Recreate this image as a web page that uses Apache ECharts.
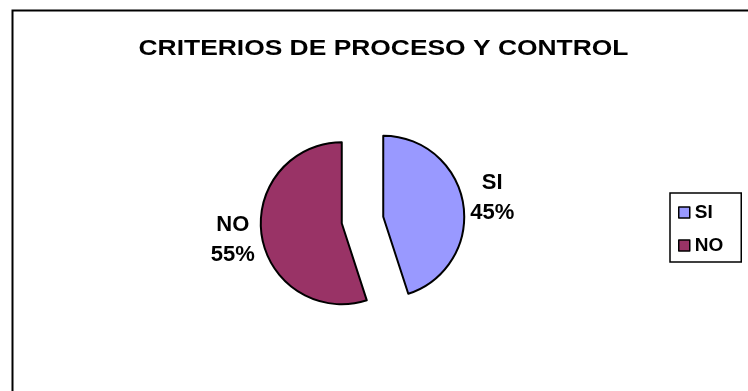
<!DOCTYPE html>
<html>
<head>
<meta charset="utf-8">
<script src="https://cdn.jsdelivr.net/npm/echarts@6/dist/echarts.min.js"></script>
<style>html,body{margin:0;padding:0;background:#fff;}#c{width:748px;height:391px;}</style>
</head>
<body>
<div id="c"></div>
<script>
const titleText = 'CRITERIOS DE PROCESO Y CONTROL';
const categories = ['SI', 'NO'];
const values = [45, 55];
const colors = ['#9999FF', '#993366'];

const chart = echarts.init(document.getElementById('c'), null, {renderer: 'canvas'});
const FONT = '"Liberation Sans", Arial, sans-serif';
const labelPads = [[0, 0, 12, 0], [8, 0, 0, 0]];
chart.setOption({
  animation: false,
  backgroundColor: '#fff',
  graphic: [{
    type: 'rect', left: 10, top: 8, silent: true,
    shape: {width: 800, height: 500},
    style: {fill: 'none', stroke: '#000', lineWidth: 2}
  }, {
    type: 'text', x: 383.5, y: 38, scaleX: 1.2, silent: true,
    style: {
      text: titleText, x: 0, y: 0, align: 'center', verticalAlign: 'top',
      font: 'bold 22px ' + FONT, fill: '#000'
    }
  }],
  legend: {
    orient: 'vertical', left: 670, top: 193,
    padding: [10, 18, 7, 8],
    borderColor: '#000', borderWidth: 1.5,
    itemWidth: 11, itemHeight: 11, itemGap: 14,
    icon: 'rect',
    selectedMode: false,
    itemStyle: {borderColor: '#000', borderWidth: 1.5},
    data: categories,
    textStyle: {fontFamily: FONT, fontWeight: 'bold', fontSize: 19, color: '#000'}
  },
  series: [{
    type: 'pie',
    center: [362.5, 220],
    radius: 81,
    startAngle: 90,
    clockwise: true,
    selectedMode: 'multiple',
    selectedOffset: 21,
    emphasis: {disabled: true},
    itemStyle: {borderColor: '#000', borderWidth: 2},
    label: {
      show: true,
      position: 'outside',
      formatter: '{a|{b}}\n{a|{d}%}',
      rich: {
        a: {fontFamily: FONT, fontWeight: 'bold', fontSize: 22, lineHeight: 30, color: '#000', width: 48, align: 'center'}
      }
    },
    labelLine: {show: false, length: 0, length2: 0},
    data: categories.map((c, i) => ({
      name: c, value: values[i], selected: true,
      itemStyle: {color: colors[i]},
      label: {padding: labelPads[i]}
    }))
  }]
});
</script>
</body>
</html>
